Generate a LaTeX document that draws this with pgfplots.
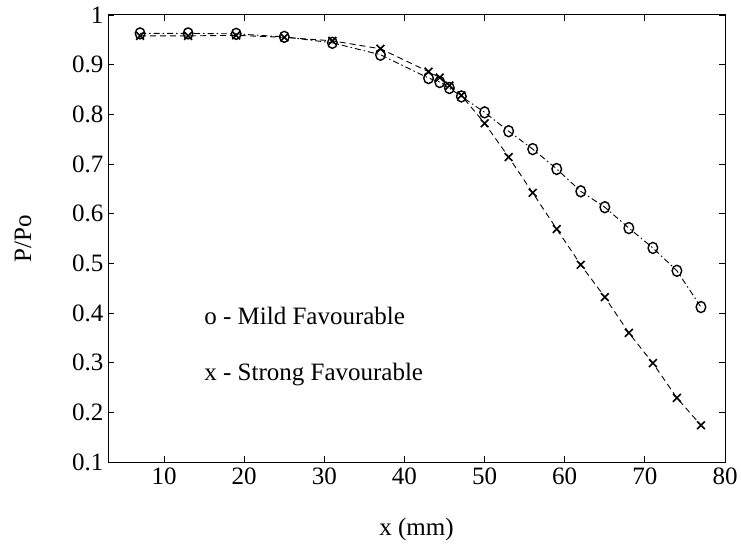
\documentclass[border=0pt]{standalone}
\usepackage{pgfplots}
\pgfplotsset{compat=1.18}
\usepackage{fontspec}
\setmainfont{Liberation Serif}
\begin{document}
\begin{tikzpicture}
\begin{axis}[
  scale only axis,
  width=617pt, height=447pt,
  xmin=3, xmax=80, ymin=0.1, ymax=1,
  xtick={10,20,...,80},
  ytick={0.1,0.2,...,1.0},
  yticklabels={0.1,0.2,0.3,0.4,0.5,0.6,0.7,0.8,0.9,1},
  tick align=inside,
  major tick length=6pt,
  tick style={black, line width=0.8pt},
  axis line style={line width=1pt},
  /pgf/number format/assume math mode=true,
  tick label style={font=\fontsize{25}{30}\selectfont},
  xticklabel style={yshift=-2pt},
  yticklabel style={xshift=-1pt},
  xlabel={x (mm)},
  ylabel={P/Po},
  every axis x label/.style={at={(axis description cs:0.5,0)}, yshift=-73pt, anchor=base, font=\fontsize{25}{30}\selectfont},
  every axis y label/.style={at={(axis description cs:0,0.5)}, xshift=-85pt, rotate=90, anchor=center, font=\fontsize{25}{30}\selectfont},
  clip=false,
]
\addplot[black, line width=0.9pt, dash pattern=on 6pt off 3pt on 1.5pt off 3pt,
  mark=o, mark size=4.8pt, mark options={solid, line width=1.4pt, yscale=1.15}]
coordinates {
(7,0.963)(13,0.963)(19,0.962)(25,0.956)(31,0.944)(37,0.920)(43,0.873)(44.4,0.865)(45.6,0.853)(47.1,0.836)(50,0.804)(53,0.766)(56,0.730)(59,0.690)(62,0.645)(65,0.613)(68,0.571)(71,0.531)(74,0.485)(77,0.412)
};
\addplot[black, line width=0.9pt, dash pattern=on 6pt off 4pt,
  mark=x, mark size=5.5pt, mark options={solid, line width=1.6pt}]
coordinates {
(7,0.958)(13,0.958)(19,0.959)(25,0.955)(31,0.948)(37,0.932)(43,0.886)(44.4,0.874)(45.6,0.858)(47.1,0.838)(50,0.782)(53,0.714)(56,0.642)(59,0.569)(62,0.497)(65,0.432)(68,0.360)(71,0.299)(74,0.229)(77,0.174)
};
\node[anchor=base west, inner sep=0pt, font=\fontsize{25}{30}\selectfont] at (axis cs:15,0.376) {o - Mild Favourable};
\node[anchor=base west, inner sep=0pt, font=\fontsize{25}{30}\selectfont] at (axis cs:15,0.265) {x - Strong Favourable};
\end{axis}
\pgfresetboundingbox
\path ([shift={(-108pt,-83pt)}]current axis.south west) rectangle ([shift={(16pt,15pt)}]current axis.north east);
\end{tikzpicture}
\end{document}
